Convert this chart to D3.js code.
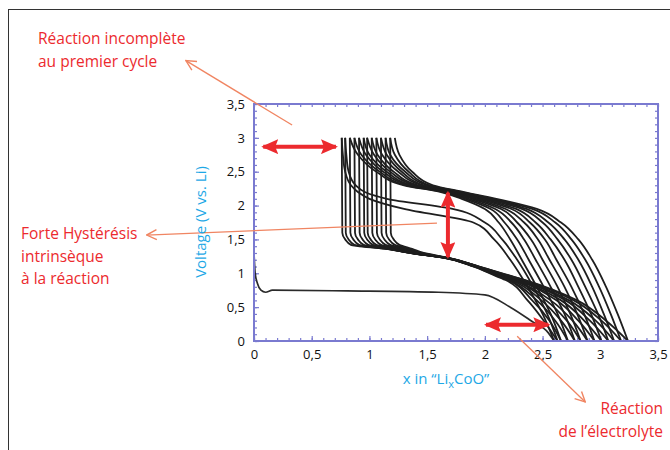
<!DOCTYPE html>
<html>
<head>
<meta charset="utf-8">
<script src="https://cdn.jsdelivr.net/npm/d3@7"></script>
<style>
  body { margin: 0; background: #fff; }
  text { font-family: "Open Sans", "Noto Sans", sans-serif; }
</style>
</head>
<body>
<div id="chart"></div>
<script>
// tick labels
var xTicks = [0, 0.5, 1, 1.5, 2, 2.5, 3, 3.5];
var yTicks = [0, 0.5, 1, 1.5, 2, 2.5, 3, 3.5];

// first discharge (x, V)
var firstX = [0, 0.01, 0.03, 0.06, 0.10, 0.16, 0.8, 1.6, 2.0, 2.22, 2.4, 2.55, 2.6];
var firstV = [1.3, 1.0, 0.85, 0.75, 0.72, 0.75, 0.74, 0.72, 0.68, 0.5, 0.3, 0.12, 0];

// charge curves: x read at these voltages
var chargeV = [0, 0.4, 0.8, 1.2, 1.5, 1.75, 1.95, 2.1, 2.2, 2.3, 2.5, 2.75, 3.0];
var chargeX = [
  [2.60, 2.50, 2.37, 2.22, 2.08, 1.90, 1.30, 1.00, 0.90, 0.84, 0.79, 0.77, 0.76],
  [2.63, 2.54, 2.42, 2.28, 2.15, 2.00, 1.72, 1.15, 0.96, 0.88, 0.82, 0.80, 0.79],
  [2.66, 2.57, 2.45, 2.32, 2.22, 2.12, 2.00, 1.80, 1.62, 1.30, 1.06, 0.90, 0.83],
  [2.72, 2.63, 2.51, 2.38, 2.28, 2.17, 2.05, 1.83, 1.64, 1.32, 1.09, 0.93, 0.87],
  [2.78, 2.69, 2.57, 2.44, 2.34, 2.23, 2.09, 1.86, 1.66, 1.35, 1.12, 0.97, 0.91],
  [2.83, 2.74, 2.63, 2.50, 2.40, 2.28, 2.14, 1.89, 1.68, 1.37, 1.15, 1.00, 0.95],
  [2.89, 2.80, 2.69, 2.56, 2.46, 2.34, 2.18, 1.92, 1.70, 1.40, 1.18, 1.04, 0.98],
  [2.95, 2.86, 2.75, 2.62, 2.52, 2.39, 2.23, 1.95, 1.72, 1.42, 1.21, 1.07, 1.02],
  [3.01, 2.92, 2.81, 2.69, 2.57, 2.44, 2.27, 1.98, 1.74, 1.45, 1.25, 1.11, 1.06],
  [3.07, 2.98, 2.87, 2.75, 2.63, 2.50, 2.32, 2.01, 1.76, 1.47, 1.28, 1.15, 1.10],
  [3.12, 3.03, 2.93, 2.81, 2.69, 2.55, 2.36, 2.04, 1.78, 1.50, 1.31, 1.18, 1.14],
  [3.18, 3.09, 2.99, 2.87, 2.75, 2.61, 2.41, 2.07, 1.80, 1.52, 1.34, 1.22, 1.18],
  [3.24, 3.15, 3.05, 2.93, 2.81, 2.66, 2.45, 2.10, 1.82, 1.55, 1.37, 1.26, 1.22]
];

// discharge curves: x read at these voltages
var dischargeV = [3.0, 1.6, 1.5, 1.42, 1.36, 1.3, 1.23, 1.1, 1.0, 0.9, 0.6, 0.3, 0];
var dischargeX = [
  [0.76, 0.765, 0.79, 0.84, 1.15, 1.35, 1.64, 1.90, 2.04, 2.18, 2.37, 2.51, 2.63],
  [0.79, 0.795, 0.82, 0.87, 1.15, 1.35, 1.64, 1.90, 2.05, 2.20, 2.41, 2.56, 2.66],
  [0.83, 0.835, 0.86, 0.91, 1.16, 1.35, 1.64, 1.91, 2.06, 2.21, 2.45, 2.61, 2.72],
  [0.87, 0.875, 0.90, 0.95, 1.17, 1.36, 1.65, 1.91, 2.07, 2.23, 2.49, 2.66, 2.78],
  [0.91, 0.915, 0.94, 0.99, 1.18, 1.36, 1.65, 1.92, 2.08, 2.25, 2.53, 2.71, 2.83],
  [0.95, 0.955, 0.98, 1.03, 1.20, 1.37, 1.65, 1.92, 2.09, 2.26, 2.57, 2.76, 2.89],
  [0.98, 0.985, 1.01, 1.06, 1.22, 1.38, 1.66, 1.93, 2.10, 2.28, 2.62, 2.81, 2.95],
  [1.02, 1.025, 1.05, 1.10, 1.25, 1.39, 1.66, 1.93, 2.11, 2.29, 2.66, 2.86, 3.01],
  [1.06, 1.065, 1.09, 1.14, 1.28, 1.41, 1.66, 1.94, 2.12, 2.31, 2.70, 2.91, 3.07],
  [1.10, 1.105, 1.13, 1.18, 1.31, 1.43, 1.67, 1.94, 2.13, 2.32, 2.73, 2.96, 3.12],
  [1.14, 1.145, 1.17, 1.22, 1.34, 1.45, 1.67, 1.95, 2.14, 2.34, 2.77, 3.01, 3.18],
  [1.18, 1.185, 1.21, 1.26, 1.37, 1.47, 1.68, 1.95, 2.15, 2.35, 2.80, 3.05, 3.24]
];

// red double arrows, in data units [x1, V1, x2, V2]
var redArrows = [
  [0.08, 2.87, 0.71, 2.87],
  [1.68, 2.19, 1.68, 1.24],
  [2.01, 0.24, 2.55, 0.24]
];
// pointer lines to the notes, in data units [x1, V1, x2, V2]
var pointers = [
  [0.33, 3.19, -0.59, 4.14],
  [1.585, 1.74, -0.93, 1.565],
  [2.28, 0.07, 2.87, -0.90]
];

var width = 670, height = 450;
var red = "#ec2a2e", orange = "#f08562", blue = "#7a7ad0", cyan = "#1ea8e6";

var svg = d3.select("#chart").append("svg")
    .attr("width", width)
    .attr("height", height);

// outer frame
svg.append("rect")
    .attr("x", 8.5).attr("y", 9.5)
    .attr("width", 700).attr("height", 500)
    .attr("fill", "none")
    .attr("stroke", "#333")
    .attr("stroke-width", 1);

var x = d3.scaleLinear().domain([0, 3.5]).range([254, 658]);
var y = d3.scaleLinear().domain([0, 3.5]).range([341, 104]);

var fmt = function(d) { return String(d).replace(".", ","); };

// minor ticks on all four sides
function minor(axis, tr) {
  var g = svg.append("g").attr("transform", tr).call(axis);
  g.select(".domain").remove();
  g.selectAll("line").attr("stroke", blue).attr("stroke-width", 1.2);
  return g;
}
minor(d3.axisBottom(x).ticks(35).tickSize(-3).tickFormat(""), "translate(0,341)");
minor(d3.axisTop(x).ticks(35).tickSize(-3).tickFormat(""), "translate(0,104)");
minor(d3.axisLeft(y).ticks(35).tickSize(-3).tickFormat(""), "translate(254,0)");
minor(d3.axisRight(y).ticks(35).tickSize(-3).tickFormat(""), "translate(658,0)");

var gx = svg.append("g")
    .attr("transform", "translate(0,341)")
    .call(d3.axisBottom(x).tickValues(xTicks).tickSize(-5).tickPadding(9).tickFormat(fmt));
var gy = svg.append("g")
    .attr("transform", "translate(254,0)")
    .call(d3.axisLeft(y).tickValues(yTicks).tickSize(-5).tickPadding(9).tickFormat(fmt));
[gx, gy].forEach(function(g) {
  g.select(".domain").remove();
  g.selectAll("line").attr("stroke", blue).attr("stroke-width", 1.2);
  g.selectAll("text").attr("fill", "#111").style("font-size", "13px");
});

// curves
var plot = svg.append("g");

plot.append("path")
    .datum(d3.zip(firstX, firstV))
    .attr("fill", "none")
    .attr("stroke", "#2a2a2a")
    .attr("stroke-width", 1.7)
    .attr("d", d3.line().curve(d3.curveMonotoneX)
        .x(function(d) { return x(d[0]); })
        .y(function(d) { return y(d[1]); }));

var lineY = d3.line().curve(d3.curveMonotoneY)
    .x(function(d) { return x(d[0]); })
    .y(function(d) { return y(d[1]); });

plot.selectAll(".charge")
    .data(chargeX)
    .enter().append("path")
    .attr("class", "charge")
    .attr("fill", "none")
    .attr("stroke", "#1e1e1e")
    .attr("stroke-width", 1.8)
    .attr("d", function(row) { return lineY(d3.zip(row, chargeV)); });

plot.selectAll(".discharge")
    .data(dischargeX)
    .enter().append("path")
    .attr("class", "discharge")
    .attr("fill", "none")
    .attr("stroke", "#1e1e1e")
    .attr("stroke-width", 1.8)
    .attr("d", function(row) { return lineY(d3.zip(row, dischargeV)); });

// plot border
svg.append("rect")
    .attr("x", x(0)).attr("y", y(3.5))
    .attr("width", x(3.5) - x(0)).attr("height", y(0) - y(3.5))
    .attr("fill", "none")
    .attr("stroke", blue)
    .attr("stroke-width", 2);

// arrow markers
var defs = svg.append("defs");
defs.append("marker")
    .attr("id", "redhead")
    .attr("markerUnits", "userSpaceOnUse")
    .attr("viewBox", "0 0 17 15")
    .attr("refX", 15).attr("refY", 7.5)
    .attr("markerWidth", 17).attr("markerHeight", 15)
    .attr("orient", "auto-start-reverse")
    .append("path")
    .attr("d", "M0,0 L17,7.5 L0,15 L3,7.5 Z")
    .attr("fill", red);

defs.append("marker")
    .attr("id", "openhead")
    .attr("markerUnits", "userSpaceOnUse")
    .attr("viewBox", "0 0 12 12")
    .attr("refX", 11).attr("refY", 6)
    .attr("markerWidth", 12).attr("markerHeight", 12)
    .attr("orient", "auto")
    .append("path")
    .attr("d", "M1,1 L11,6 L1,11")
    .attr("fill", "none")
    .attr("stroke", orange)
    .attr("stroke-width", 1.4);

svg.selectAll(".pointer")
    .data(pointers)
    .enter().append("line")
    .attr("class", "pointer")
    .attr("x1", function(d) { return x(d[0]); })
    .attr("y1", function(d) { return y(d[1]); })
    .attr("x2", function(d) { return x(d[2]); })
    .attr("y2", function(d) { return y(d[3]); })
    .attr("stroke", orange)
    .attr("stroke-width", 1.3)
    .attr("marker-end", "url(#openhead)");

svg.selectAll(".redarrow")
    .data(redArrows)
    .enter().append("line")
    .attr("class", "redarrow")
    .attr("x1", function(d) { return x(d[0]); })
    .attr("y1", function(d) { return y(d[1]); })
    .attr("x2", function(d) { return x(d[2]); })
    .attr("y2", function(d) { return y(d[3]); })
    .attr("stroke", red)
    .attr("stroke-width", 4)
    .attr("marker-start", "url(#redhead)")
    .attr("marker-end", "url(#redhead)");

// axis titles
var xl = svg.append("text")
    .attr("x", 446).attr("y", 384)
    .attr("text-anchor", "middle")
    .attr("fill", cyan)
    .style("font-size", "15px");
xl.append("tspan").text("x in \u201CLi");
xl.append("tspan").attr("dy", 4).style("font-size", "11px").text("x");
xl.append("tspan").attr("dy", -4).text("CoO\u201D");

svg.append("text")
    .attr("transform", "translate(206,222) rotate(-90)")
    .attr("text-anchor", "middle")
    .attr("fill", cyan)
    .style("font-size", "15px")
    .text("Voltage (V vs. Li)");

// notes
function note(lines, tx, ty, anchor) {
  var t = svg.append("text")
      .attr("fill", red)
      .attr("text-anchor", anchor)
      .style("font-size", "15.5px");
  lines.forEach(function(s, i) {
    t.append("tspan").attr("x", tx).attr("y", ty + i * 22.5).text(s);
  });
}
note(["R\u00E9action incompl\u00E8te", "au premier cycle"], 38, 44, "start");
note(["Forte Hyst\u00E9r\u00E9sis", "intrins\u00E8que", "\u00E0 la r\u00E9action"], 21, 239, "start");
note(["R\u00E9action", "de l\u2019\u00E9lectrolyte"], 663, 414, "end");
</script>
</body>
</html>
